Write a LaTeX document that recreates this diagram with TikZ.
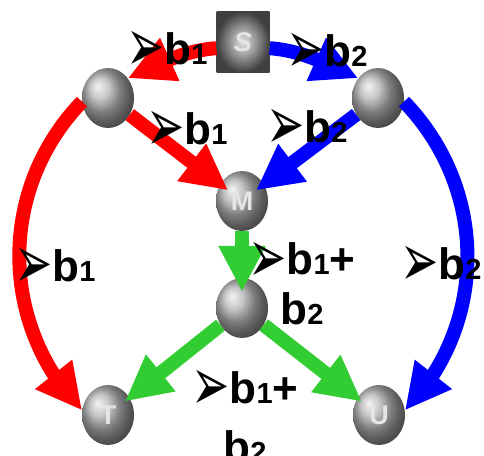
\documentclass[tikz,border=0pt]{standalone}
\usepackage{fontspec}
\setmainfont{Liberation Sans}
\newfontfamily\dingfont{DejaVu Sans}
\usetikzlibrary{arrows.meta,bending,shapes.geometric}

\definecolor{grn}{RGB}{50,205,50}
\newcommand\arrowmark{\raisebox{-7pt}{\scalebox{0.88}[1.45]{\dingfont\fontsize{52}{52}\selectfont ➢}}}
\newcommand\sml[1]{{\fontsize{29}{29}\selectfont #1}}

\begin{document}
\begin{tikzpicture}[
    x=1pt, y=1pt,
    ball/.style={ellipse, minimum width=52pt, minimum height=60pt, inner sep=0pt,
                 ball color=gray!60, text=gray!20,
                 font=\bfseries\fontsize{27}{27}\selectfont},
    sq/.style={rectangle, minimum width=53pt, minimum height=61pt, inner sep=0pt,
               shading=radial, inner color=gray!20, outer color=black!75,
               text=gray!20, font=\bfseries\itshape\fontsize{27}{27}\selectfont},
    arr/.style={line width=14pt, -{Triangle[length=46pt, width=44pt]}},
    lbl/.style={font=\bfseries\fontsize{44}{50}\selectfont, anchor=base west,
                inner sep=0pt}
]
\useasboundingbox (0,0) rectangle (484,455);

% nodes
\node[sq] (S) at (243,413) {S};
\node[ball] (left) at (108,357) {};
\node[ball] (right) at (378,357) {};
\node[ball] (M) at (242,254) {M};
\node[ball] (hub) at (242,147) {};
\node[ball] (T) at (108,40) {T};
\node[ball] (U) at (379,40) {U};

% connectors
\draw[arr, red] (S.193) to[out=185, in=23] (left.45);
\draw[arr, blue] (S.-13) to[out=-5, in=157] (right.135);
\draw[arr, red, shorten >=-10pt] (left) -- (M);
\draw[arr, blue, shorten >=-10pt] (right) -- (M);
\draw[arr, red] (left.188) to[out=226, in=134] (T.170);
\draw[arr, blue] (right.-8) to[out=-46, in=46] (U.10);
\draw[arr, grn, shorten >=-14pt] (M) -- (hub);
\draw[arr, grn, shorten >=-6pt] (hub) -- (T);
\draw[arr, grn, shorten >=-6pt] (hub) -- (U);

% labels
\node[lbl] (lsl) at (126,390) {\arrowmark b\sml{1}};
\node[lbl] (lsr) at (286,388) {\arrowmark b\sml{2}};
\node[lbl] (llm) at (146,310) {\arrowmark b\sml{1}};
\node[lbl] (lrm) at (266,312) {\arrowmark b\sml{2}};
\node[lbl] (llt) at (14,173) {\arrowmark b\sml{1}};
\node[lbl] (lru) at (400,175) {\arrowmark b\sml{2}};
\node[lbl, anchor=base, align=center] (lmh) at (302,130)
    {\arrowmark b\sml{1}+\\ b\sml{2}};
\node[lbl, anchor=base, align=center] (lht) at (245,-7)
    {\arrowmark b\sml{1}+\\[9pt] b\sml{2}};
\end{tikzpicture}
\end{document}
